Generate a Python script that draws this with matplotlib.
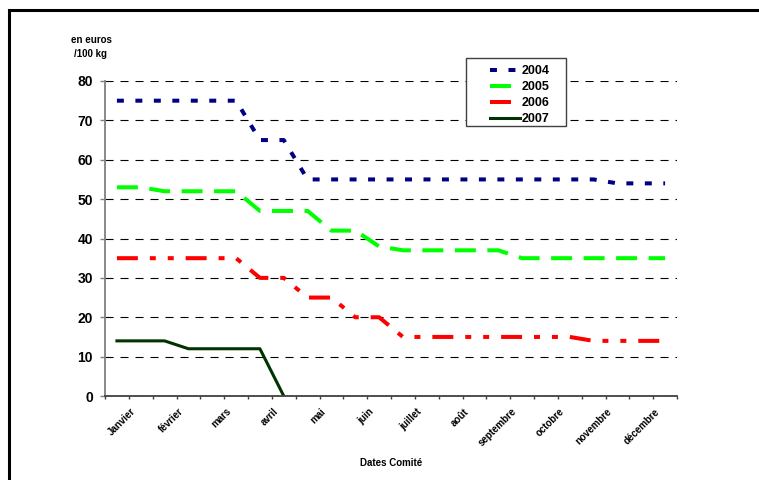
import matplotlib
matplotlib.use("Agg")
import matplotlib.pyplot as plt
import matplotlib.patches as patches
import matplotlib.transforms as mtransforms
import numpy as np

plt.rcParams['font.family'] = ['Liberation Sans', 'DejaVu Sans']
plt.rcParams['font.weight'] = 'bold'
plt.rcParams['lines.scale_dashes'] = False

# two committee dates per month -> 24 slots, one label every 2 slots
months = ['Janvier', 'février', 'mars', 'avril', 'mai', 'juin', 'juillet',
          'août', 'septembre', 'octobre', 'novembre', 'décembre']

v2004 = [75, 75, 75, 75, 75, 75, 65, 65, 55, 55, 55, 55,
         55, 55, 55, 55, 55, 55, 55, 55, 55, 54, 54, 54]
v2005 = [53, 53, 52, 52, 52, 52, 47, 47, 47, 42, 42, 38,
         37, 37, 37, 37, 37, 35, 35, 35, 35, 35, 35, 35]
v2006 = [35, 35, 35, 35, 35, 35, 30, 30, 25, 25, 20, 20,
         15, 15, 15, 15, 15, 15, 15, 15, 14, 14, 14, 14]
v2007 = [14, 14, 14, 12, 12, 12, 12, 0]

fig = plt.figure(figsize=(7.59, 4.80), dpi=100)
ax = fig.add_axes([105/759, 1 - 396/480, 572/759, 315/480])

x = np.arange(24)
ax.plot(x, v2004, color='#000080', lw=2.9, linestyle=(0, (5.0, 8.3)), label='2004')
ax.plot(x, v2005, color='#00ff00', lw=2.9, linestyle=(0, (15.1, 8.3)), label='2005')
ax.plot(x, v2006, color='#ff0000', lw=2.9,
        linestyle=(0, (15.1, 8.6, 4.3, 8.6, 4.3, 8.6)), label='2006')
ax.plot(np.arange(len(v2007)), v2007, color='#003300', lw=2.2, label='2007')

ax.set_xlim(-0.5, 23.5)
ax.set_ylim(0, 80)
ax.set_yticks(np.arange(0, 81, 10))
ax.tick_params(axis='y', length=3.6, width=1, color='#808080', pad=5, labelsize=10)
ax.yaxis.grid(True, color='black', lw=0.8, linestyle=(0, (5.8, 5.0)))
ax.set_axisbelow(True)

# boundaries as tick marks, month labels under every other slot
ax.set_xticks(np.arange(-0.5, 24, 1))
ax.set_xticklabels([])
ax.tick_params(axis='x', which='major', length=2.5, width=1, color='#404040')
ax.set_xticks(np.arange(0, 24, 2), minor=True)
ax.set_xticklabels(months, minor=True, rotation=45, ha='right', va='center',
                   rotation_mode='anchor', fontsize=7)
ax.tick_params(axis='x', which='minor', length=0, pad=10)
offset = mtransforms.ScaledTranslation(17/100, 0, fig.dpi_scale_trans)
for lab in ax.get_xticklabels(minor=True):
    lab.set_transform(lab.get_transform() + offset)

for s in ['top', 'right']:
    ax.spines[s].set_visible(False)
ax.spines['left'].set_color('#808080')
ax.spines['left'].set_linewidth(1.3)
ax.spines['bottom'].set_color('#404040')
ax.spines['bottom'].set_linewidth(1.3)

fig.text(91/759, 1 - 47/480, 'en euros\n/100 kg', ha='center', va='center',
         fontsize=7, linespacing=1.5)
fig.text(391/759, 1 - 463/480, 'Dates Comité', ha='center', va='center', fontsize=7)

# legend box drawn by hand (Excel style padding)
box = patches.Rectangle((466/759, 1 - 126/480), 100/759, 68/480, transform=fig.transFigure,
                        facecolor='white', edgecolor='#404040', lw=1, zorder=4, clip_on=False)
ax.add_patch(box)
leg = ax.legend(loc='upper left', bbox_to_anchor=(484/759, 1 - 59/480),
                bbox_transform=fig.transFigure, frameon=False, borderpad=0,
                fontsize=9, handlelength=2.4, handletextpad=0.12, labelspacing=0.32)
leg.set_zorder(5)

# outer frame of the chart area
frame = patches.Rectangle((9/759, -0.05), 1.0, 1 - 10/480 + 0.05, transform=fig.transFigure,
                          facecolor='none', edgecolor='black', lw=2.2, clip_on=False)
fig.patches.append(frame)

fig.savefig('out.png', dpi=100)
